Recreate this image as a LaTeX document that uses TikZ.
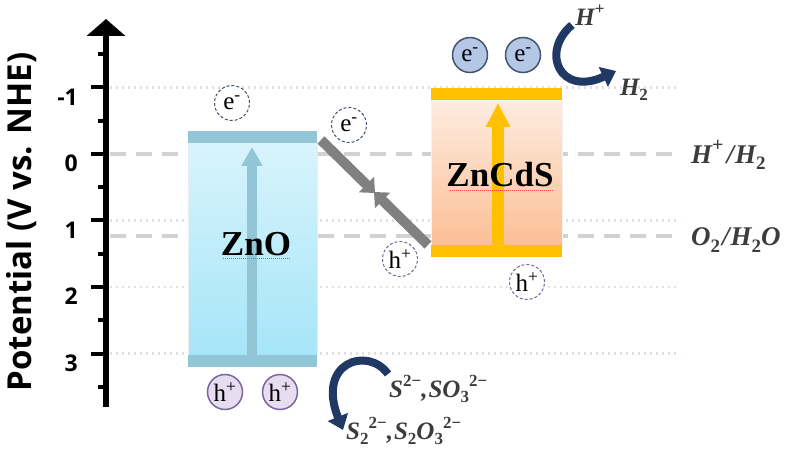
\documentclass[tikz,border=0pt]{standalone}
\usepackage{fontspec}
\setmainfont{Liberation Serif}
\newfontfamily\axisfont{Open Sans}
\newfontfamily\chemfont{Liberation Serif}
\usetikzlibrary{arrows.meta,shapes.geometric}
\definecolor{znoTop}{HTML}{D8F4FC}
\definecolor{znoBot}{HTML}{A6E5F8}
\definecolor{znoBand}{HTML}{92C5D5}
\definecolor{zcTop}{HTML}{FDECE0}
\definecolor{zcBot}{HTML}{FBBF96}
\definecolor{zcBand}{HTML}{FFC000}
\definecolor{eFill}{HTML}{B4C7E7}
\definecolor{eLine}{HTML}{44546A}
\definecolor{hFill}{HTML}{E6DDF0}
\definecolor{hLine}{HTML}{7A64A0}
\definecolor{navy}{HTML}{203864}
\definecolor{labgray}{HTML}{3C3C3C}
\definecolor{dashgray}{HTML}{D2D2D2}
\definecolor{dotgray}{HTML}{E0E0E0}
\newcommand\csup[1]{\raisebox{0.42em}{\fontsize{17}{18}\selectfont\upshape #1}}
\newcommand\csub[1]{\raisebox{-0.22em}{\fontsize{17}{18}\selectfont\upshape #1}}
\newcommand\rsup[1]{\raisebox{0.42em}{\fontsize{20}{21}\selectfont\upshape #1}}
\newcommand\rsub[1]{\raisebox{-0.24em}{\fontsize{19}{20}\selectfont\upshape #1}}
\tikzset{
  dotline/.style={dotgray, line width=2.5pt, dash pattern=on 2pt off 4pt},
  dashline/.style={dashgray, line width=3.5pt, dash pattern=on 16pt off 10pt},
  ticklab/.style={font=\axisfont\bfseries\fontsize{23}{24}\selectfont, inner sep=0pt, anchor=base east},
  boxlab/.style={font=\bfseries\fontsize{35}{36}\selectfont, inner sep=0pt, anchor=base},
  carrier/.style={circle, minimum size=35pt, inner sep=0pt, font=\fontsize{25}{26}\selectfont},
  edash/.style={carrier, draw=eLine, fill=white, line width=1pt, dash pattern=on 3pt off 2pt},
  hdash/.style={carrier, draw=hLine, fill=white, line width=1pt, dash pattern=on 3pt off 2pt},
  efull/.style={carrier, draw=eLine, fill=eFill, line width=1.5pt},
  hfull/.style={carrier, draw=hLine, fill=hFill, line width=1.5pt},
  chem/.style={font=\chemfont\bfseries\itshape\fontsize{25}{26}\selectfont, text=labgray, inner sep=0pt},
  redox/.style={font=\chemfont\bfseries\itshape\fontsize{27}{28}\selectfont, text=labgray, inner sep=0pt, anchor=west},
  navyarrow/.style={navy, line width=8pt, -{Triangle[length=14pt,width=21pt]}},
  diagarrow/.style={gray, line width=10pt, -{Triangle[length=12pt,width=21pt]}},
  spell/.style={red!70, line width=0.6pt, dash pattern=on 1pt off 1pt}
}
\begin{document}
\begin{tikzpicture}[x=1pt,y=-1pt]
\useasboundingbox (0,0) rectangle (800,454);
% reference lines
\foreach \v in {-1,1,2,3} \draw[dotline] (110,{154+66.5*\v}) -- (680,{154+66.5*\v});
\draw[dashline] (110,154) -- (672,154);
\draw[dashline] (110,236) -- (672,236);
% axis
\draw[line width=6pt, -{Triangle[length=17pt,width=38pt]}] (106,407) -- (106,19);
\foreach \v in {-1,0,1,2,3} \draw[line width=4pt] (91,{154+66.5*\v}) -- (106,{154+66.5*\v});
\foreach \v in {-1.5,-0.5,0.5,1.5,2.5,3.5} \draw[line width=4pt] (98,{154+66.5*\v}) -- (106,{154+66.5*\v});
\node[ticklab] (tm1) at (78,105.5) {-1};
\node[ticklab] (t0) at (78,172) {0};
\node[ticklab] (t1) at (78,238.5) {1};
\node[ticklab] (t2) at (78,305) {2};
\node[ticklab] (t3) at (78,371.5) {3};
\node[rotate=90, font=\axisfont\bfseries\fontsize{33}{34}\selectfont, inner sep=0pt] (ylab) at (22,222) {Potential (V vs. NHE)};
% ZnO
\shade[top color=znoTop, bottom color=znoBot, draw=gray!15] (188,143) rectangle (317,355);
\fill[znoBand] (188,131) rectangle (317,143);
\fill[znoBand] (188,355) rectangle (317,367);
\coordinate (znoA) at (252,355);
\coordinate (znoB) at (252,147);
\draw[znoBand, line width=10pt, -{Triangle[length=19pt,width=20pt]}] (znoA) -- (znoB);
\node[boxlab] (zno) at (256,256) {ZnO};
\draw[spell] (223,258) -- (290,258);
% ZnCdS
\shade[top color=zcTop, bottom color=zcBot, draw=gray!10] (431,100) rectangle (562,245);
\fill[zcBand] (431,88) rectangle (562,100);
\fill[zcBand] (431,245) rectangle (562,257);
\coordinate (zcA) at (498,245);
\coordinate (zcB) at (498,103);
\draw[zcBand, line width=12pt, -{Triangle[length=24pt,width=23pt]}] (zcA) -- (zcB);
\node[boxlab] (zncds) at (500,187) {ZnCdS};
\draw[spell] (450,190) -- (554,190);
% diagonal transfer
\coordinate (dA) at (321,140);
\coordinate (dB) at (428,245);
\coordinate (dM1) at (375,193);
\coordinate (dM2) at (374,192);
\draw[diagarrow] (dA) -- (dM1);
\draw[diagarrow] (dB) -- (dM2);
% carriers
\node[edash] (e1) at (232,103) {e\textsuperscript{-}};
\node[edash] (e2) at (349,125) {e\textsuperscript{-}};
\node[hdash] (h1) at (400,259) {h\textsuperscript{+}};
\node[hdash] (h2) at (527,282) {h\textsuperscript{+}};
\node[efull] (e3) at (470,55) {e\textsuperscript{-}};
\node[efull] (e4) at (523,55) {e\textsuperscript{-}};
\node[hfull] (h3) at (225,392) {h\textsuperscript{+}};
\node[hfull] (h4) at (280,392) {h\textsuperscript{+}};
% H+ -> H2
\node[chem] (hp) at (590,15) {H\csup{+}};
\node[chem] (h2lab) at (634,90) {H\csub{2}};
\coordinate (hTail) at (572,25);
\coordinate (hTip) at (616,71);
\draw[navyarrow] (hTail) .. controls (540,52) and (560,97) .. (hTip);
% right labels
\node[redox] (lab1) at (691,155) {H\rsup{+}\kern3pt/\kern1pt H\rsub{2}};
\node[redox] (lab2) at (691,240) {O\rsub{2}\kern2pt/\kern1pt H\rsub{2}O};
% sulfide
\node[chem, anchor=west] (s1) at (389,389) {S\csup{2−},\kern1pt SO\csub{3}\csup{2−}};
\node[chem, anchor=west] (s2) at (346,431) {S\csub{2}\csup{2−},\kern1pt S\csub{2}O\csub{3}\csup{2−}};
\coordinate (sTail) at (388,374);
\coordinate (sTip) at (343,430);
\draw[navyarrow] (sTail) .. controls (368,346) and (316,362) .. (sTip);
\end{tikzpicture}
\end{document}
